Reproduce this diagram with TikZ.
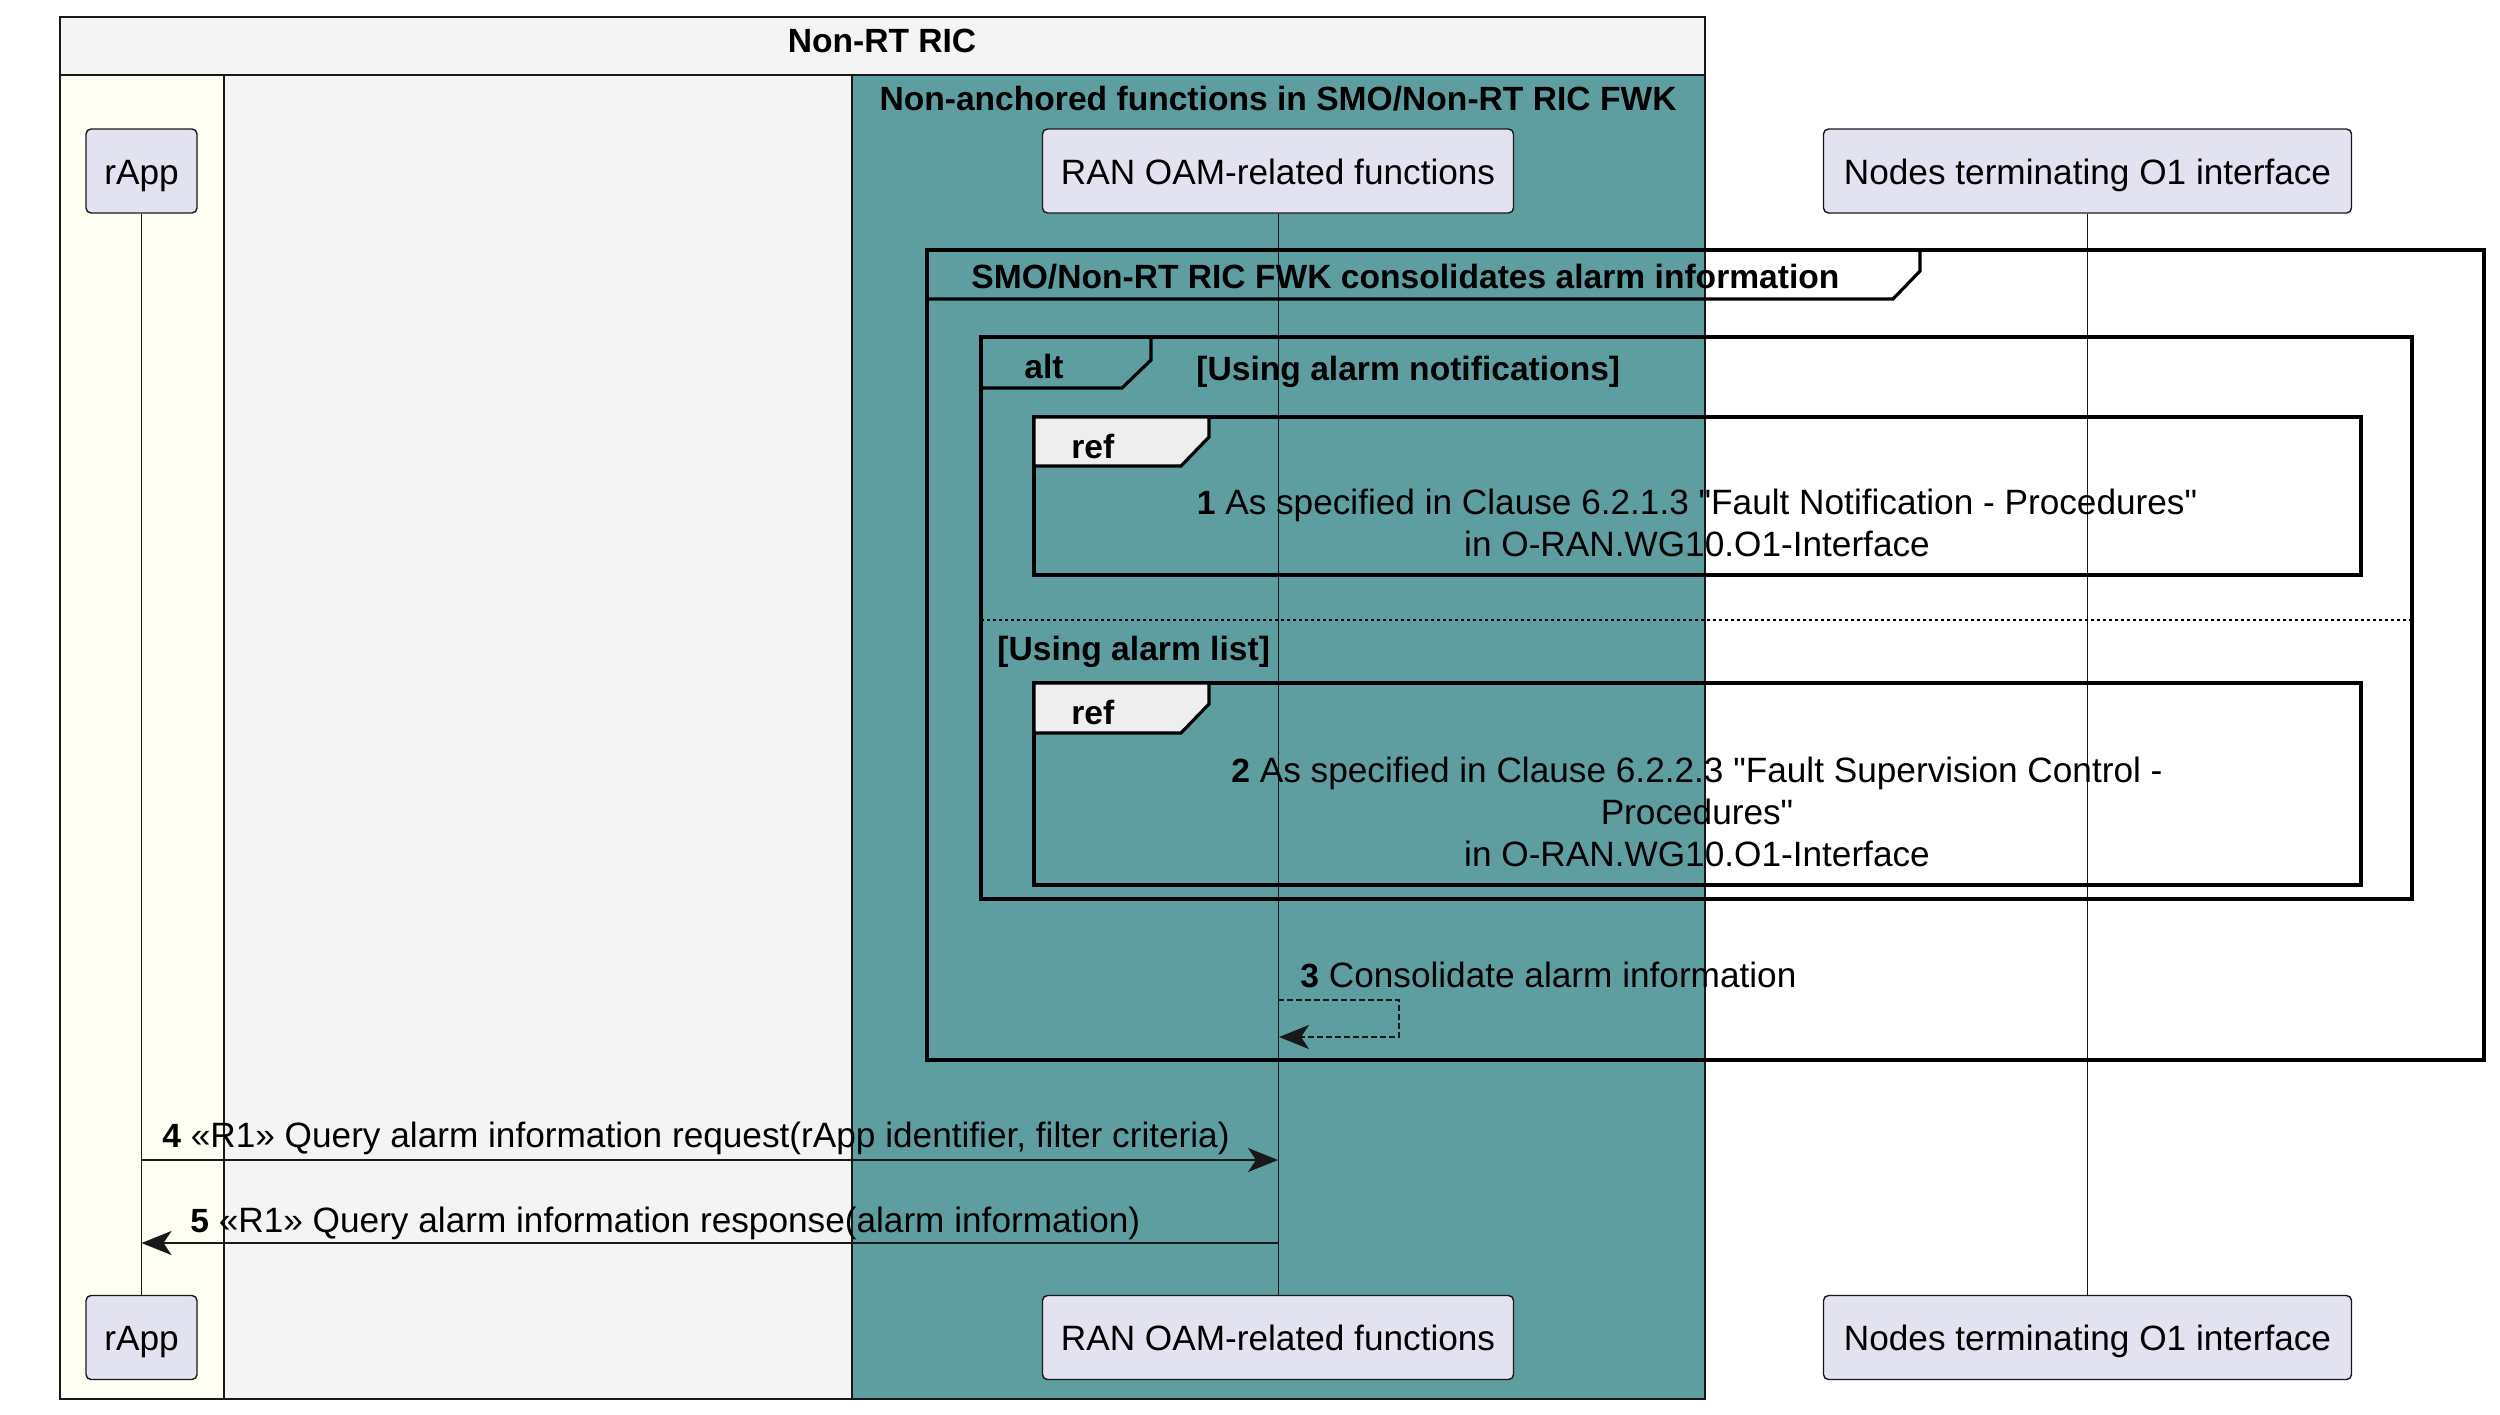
\documentclass[tikz,border=0pt]{standalone}
\usepackage{fontspec}
\setmainfont{Liberation Sans}[Ligatures=TeXOff]
\usetikzlibrary{arrows.meta}
\definecolor{boxgrey}{HTML}{F4F4F4}
\definecolor{ivorybg}{HTML}{FEFEF2}
\definecolor{tealbg}{HTML}{5F9EA0}
\definecolor{partfill}{HTML}{E2E2F0}
\definecolor{linec}{HTML}{181818}
\definecolor{tabgrey}{HTML}{EEEEEE}
\newcommand{\fsz}{\fontsize{17.6}{21}\selectfont}
\newcommand{\fsb}{\fontsize{16.8}{21}\selectfont\bfseries}
\newcommand{\nb}[1]{{\fontsize{16.8}{21}\selectfont\bfseries #1}}
\tikzset{
  partbox/.style={draw=linec, fill=partfill, rounded corners=2.5pt, line width=0.7pt,
    minimum height=42pt, inner sep=0pt, font=\fsz, text height=17pt, text depth=3.8pt},
  lifeline/.style={draw=linec, line width=0.5pt},
  grpbox/.style={draw=linec, line width=0.7pt},
  framebox/.style={draw=black, line width=1.6pt},
  lbl/.style={inner sep=0pt, font=\fsz, text=black},
  blbl/.style={inner sep=0pt, font=\fsb, text=black},
  msg/.style={draw=linec, line width=1.2pt, -{Stealth[length=15pt,width=12pt,inset=4pt]}},
  selfmsg/.style={draw=linec, line width=1.1pt, dash pattern=on 3pt off 1.5pt,
    -{Stealth[length=15pt,width=12pt,inset=4pt]}}
}
\begin{document}
\begin{tikzpicture}[x=0.5pt,y=-0.5pt]
\useasboundingbox (0,0) rectangle (2500,1414);
\fill[white] (0,0) rectangle (2500,1414);
% group boxes
\filldraw[grpbox, fill=boxgrey] (60,17) rectangle (1705,1399);
\draw[grpbox] (60,75) -- (1705,75);
\filldraw[grpbox, fill=ivorybg] (60,75) rectangle (224,1399);
\filldraw[grpbox, fill=tealbg] (852,75) rectangle (1705,1399);
\node[blbl] (ricT) at (882,41) {Non-RT RIC};
\node[blbl] (naT) at (1278,99) {Non-anchored functions in SMO/Non-RT RIC FWK};
% participants
\node[partbox, minimum width=55.5pt] (rappT) at (141.5,171) {rApp};
\node[partbox, minimum width=235.5pt] (oamT) at (1278,171) {RAN OAM-related functions};
\node[partbox, minimum width=264pt] (nodT) at (2087.5,171) {Nodes terminating O1 interface};
\node[partbox, minimum width=55.5pt] (rappB) at (141.5,1337.5) {rApp};
\node[partbox, minimum width=235.5pt] (oamB) at (1278,1337.5) {RAN OAM-related functions};
\node[partbox, minimum width=264pt] (nodB) at (2087.5,1337.5) {Nodes terminating O1 interface};
% lifelines
\draw[lifeline] (rappT.south) -- (rappB.north);
\draw[lifeline] (oamT.south) -- (oamB.north);
\draw[lifeline] (nodT.south) -- (nodB.north);
% outer frame
\draw[framebox] (927,250) rectangle (2484,1060);
\draw[framebox] (927,299) -- (1893,299) -- (1920,271) -- (1920,250);
\node[blbl, anchor=west] (grpT) at (971,277) {SMO/Non-RT RIC FWK consolidates alarm information};
% alt frame
\draw[framebox] (981,337) rectangle (2412,899);
\draw[framebox] (981,388) -- (1122,388) -- (1151,360) -- (1151,337);
\node[blbl, anchor=west] (altT) at (1024,366) {alt};
\node[blbl, anchor=west] (g1) at (1196,372) {[Using alarm notifications]};
\draw[black, line width=1pt, dash pattern=on 1.5pt off 1.5pt] (981,620) -- (2412,620);
\node[blbl, anchor=west] (g2) at (997,652) {[Using alarm list]};
% ref 1
\draw[framebox] (1034,417) rectangle (2361,575);
\filldraw[framebox, fill=tabgrey] (1034,417) -- (1209,417) -- (1209,437) -- (1181,466) -- (1034,466) -- cycle;
\node[blbl, anchor=west] (r1T) at (1071,446) {ref};
\node[lbl, align=center] (r1) at (1697,522.5) {\nb{1} As specified in Clause 6.2.1.3 "Fault Notification - Procedures"\\in O-RAN.WG10.O1-Interface};
% ref 2
\draw[framebox] (1034,683) rectangle (2361,885);
\filldraw[framebox, fill=tabgrey] (1034,683) -- (1209,683) -- (1209,704) -- (1181,733) -- (1034,733) -- cycle;
\node[blbl, anchor=west] (r2T) at (1071,712) {ref};
\node[lbl, align=center] (r2) at (1697,812) {\nb{2} As specified in Clause 6.2.2.3 "Fault Supervision Control -\\Procedures"\\in O-RAN.WG10.O1-Interface};
% message 3
\coordinate (m3a) at (1278,1000);
\coordinate (m3b) at (1279,1037);
\draw[selfmsg] (m3a) -- (1399,1000) -- (1399,1037) -- (m3b);
\node[lbl, anchor=west] (m3) at (1300,975) {\nb{3} Consolidate alarm information};
% message 4
\coordinate (m4a) at (141.5,1160);
\coordinate (m4b) at (1278,1160);
\draw[msg] (m4a) -- (m4b);
\node[lbl, anchor=west] (m4) at (162,1138) {\nb{4} «R1» Query alarm information request(rApp identifier, filter criteria)};
% message 5
\coordinate (m5a) at (1278,1243);
\coordinate (m5b) at (141.5,1243);
\draw[msg] (m5a) -- (m5b);
\node[lbl, anchor=west] (m5) at (190,1223) {\nb{5} «R1» Query alarm information response(alarm information)};
\end{tikzpicture}
\end{document}
